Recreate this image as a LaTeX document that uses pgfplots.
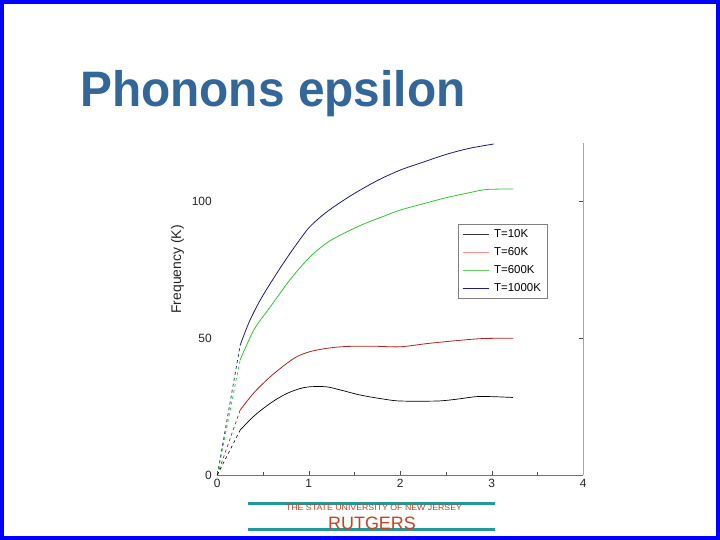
\documentclass[border=0pt]{standalone}
\usepackage{pgfplots}
\pgfplotsset{compat=1.18}
\usepackage{fontspec}
\setmainfont{Liberation Sans}

\definecolor{slideblue}{HTML}{0000FF}
\definecolor{titleblue}{HTML}{336699}
\definecolor{ruteal}{HTML}{209A9A}
\definecolor{ruorange}{HTML}{C44322}
\definecolor{c10}{HTML}{000000}
\definecolor{c60}{HTML}{B02222}
\definecolor{c600}{HTML}{33C433}
\definecolor{c1000}{HTML}{1C1C7C}

\begin{document}
\begin{tikzpicture}[x=1bp,y=1bp]
  % slide frame
  \fill[slideblue] (0,0) rectangle (720,540);
  \fill[white] (4,4) rectangle (715.5,536);

  % title
  \node[anchor=base west, inner sep=0pt, text=titleblue, xscale=0.96,
        font=\fontsize{50}{56}\selectfont\bfseries] at (80,433) {Phonons epsilon};

  % footer
  \draw[ruteal, line width=3bp] (248,36.5) -- (495,36.5);
  \draw[ruteal, line width=3bp] (248,10) -- (495,10);
  \node[text=ruorange, font=\fontsize{8}{9}\selectfont, inner sep=0pt, xscale=1.1] at (374,32) {THE STATE UNIVERSITY OF NEW JERSEY};
  \node[text=ruorange, font=\fontsize{18}{20}\selectfont, inner sep=0pt] at (372,17) {RUTGERS};

  \begin{axis}[
    at={(217.3bp,65bp)}, anchor=south west,
    scale only axis, clip=false,
    width=366bp, height=331.5bp,
    xmin=0, xmax=4, ymin=0, ymax=121,
    axis line style={draw=none},
    xtick={0,1,2,3,4},
    minor xtick={0.5,1.5,2.5,3.5},
    ytick={0,50,100},
    ytick pos=right, yticklabel pos=left,
    xtick pos=bottom,
    tick align=inside,
    major tick length=4bp, minor tick length=3bp,
    tick style={black!70, line width=0.6pt},
    /pgf/number format/assume math mode=true,
    tick label style={font=\fontsize{12}{14}\selectfont, text=black!85},
    xticklabel style={yshift=-0.5bp},
    yticklabel style={xshift=-2bp},
    ylabel={Frequency (K)},
    every axis y label/.style={at={(ticklabel cs:0.62)}, rotate=90, anchor=south,
      yshift=1bp, font=\fontsize{14}{16}\selectfont, text=black!85},
    legend style={at={(axis cs:2.63,91.6)}, anchor=north west,
      draw=black!50, fill=white, font=\fontsize{11.5}{13}\selectfont,
      inner xsep=4bp, inner ysep=3.5bp, row sep=4.5bp},
    legend cell align=left,
    legend image code/.code={\draw[#1] (0bp,0bp) -- (26bp,0bp); \path (29bp,0bp);},
  ]
    \draw[black!55, line width=0.8pt] (rel axis cs:0,0) -- (rel axis cs:1,0);
    \draw[black!35, line width=0.8pt] (rel axis cs:1,0) -- (rel axis cs:1,1);

    \addlegendimage{black!80, line width=0.5pt}
    \addlegendentry{T=10K}
    \addlegendimage{red!45, line width=0.5pt}
    \addlegendentry{T=60K}
    \addlegendimage{green!70!black!60, line width=0.5pt}
    \addlegendentry{T=600K}
    \addlegendimage{c1000, line width=1pt}
    \addlegendentry{T=1000K}

    % dashed first segments
    \addplot[c1000, dashed, line width=0.7pt, forget plot] coordinates {(0,0) (0.25,47.4)};
    \addplot[c600, dashed, line width=0.7pt, forget plot] coordinates {(0,0) (0.25,42)};
    \addplot[c60, dashed, line width=0.7pt, forget plot] coordinates {(0,0) (0.25,23.7)};
    \addplot[c10, dashed, line width=0.6pt, forget plot] coordinates {(0,0) (0.25,16.4)};

    % T=1000K
    \addplot[c1000, smooth, line width=0.8pt, forget plot] coordinates {
      (0.25,47.4) (0.35,56) (0.47,63.9) (0.6,71) (0.72,77.2) (0.85,83.5)
      (1.0,90.2) (1.15,94.8) (1.3,98.5) (1.5,102.8) (1.75,107.5) (2.0,111.3)
      (2.25,114.2) (2.5,117) (2.75,119.2) (3.02,120.8)};
    % T=600K
    \addplot[c600, smooth, line width=0.8pt, forget plot] coordinates {
      (0.25,42) (0.4,53) (0.58,61.4) (0.8,71.5) (1.01,79.5) (1.2,84.8)
      (1.4,88.5) (1.6,91.6) (1.8,94.2) (2.0,96.7) (2.25,99) (2.5,101.2)
      (2.75,103) (2.94,104.2) (3.23,104.4)};
    % T=60K
    \addplot[c60, smooth, line width=0.8pt, forget plot] coordinates {
      (0.25,23.7) (0.4,30) (0.58,35.9) (0.75,40.5) (0.87,43.2) (1.01,45)
      (1.19,46.2) (1.4,46.9) (1.7,47) (2.0,46.8) (2.3,48) (2.6,49)
      (2.9,49.8) (3.23,49.9)};
    % T=10K
    \addplot[c10, smooth, line width=0.7pt, forget plot] coordinates {
      (0.25,16.4) (0.4,21.5) (0.58,26.2) (0.75,29.6) (0.9,31.5) (1.01,32.2)
      (1.19,32.2) (1.35,31) (1.56,29.2) (1.8,27.8) (2.0,27) (2.4,27)
      (2.6,27.6) (2.83,28.6) (3.0,28.6) (3.23,28.3)};
  \end{axis}
\end{tikzpicture}
\end{document}
